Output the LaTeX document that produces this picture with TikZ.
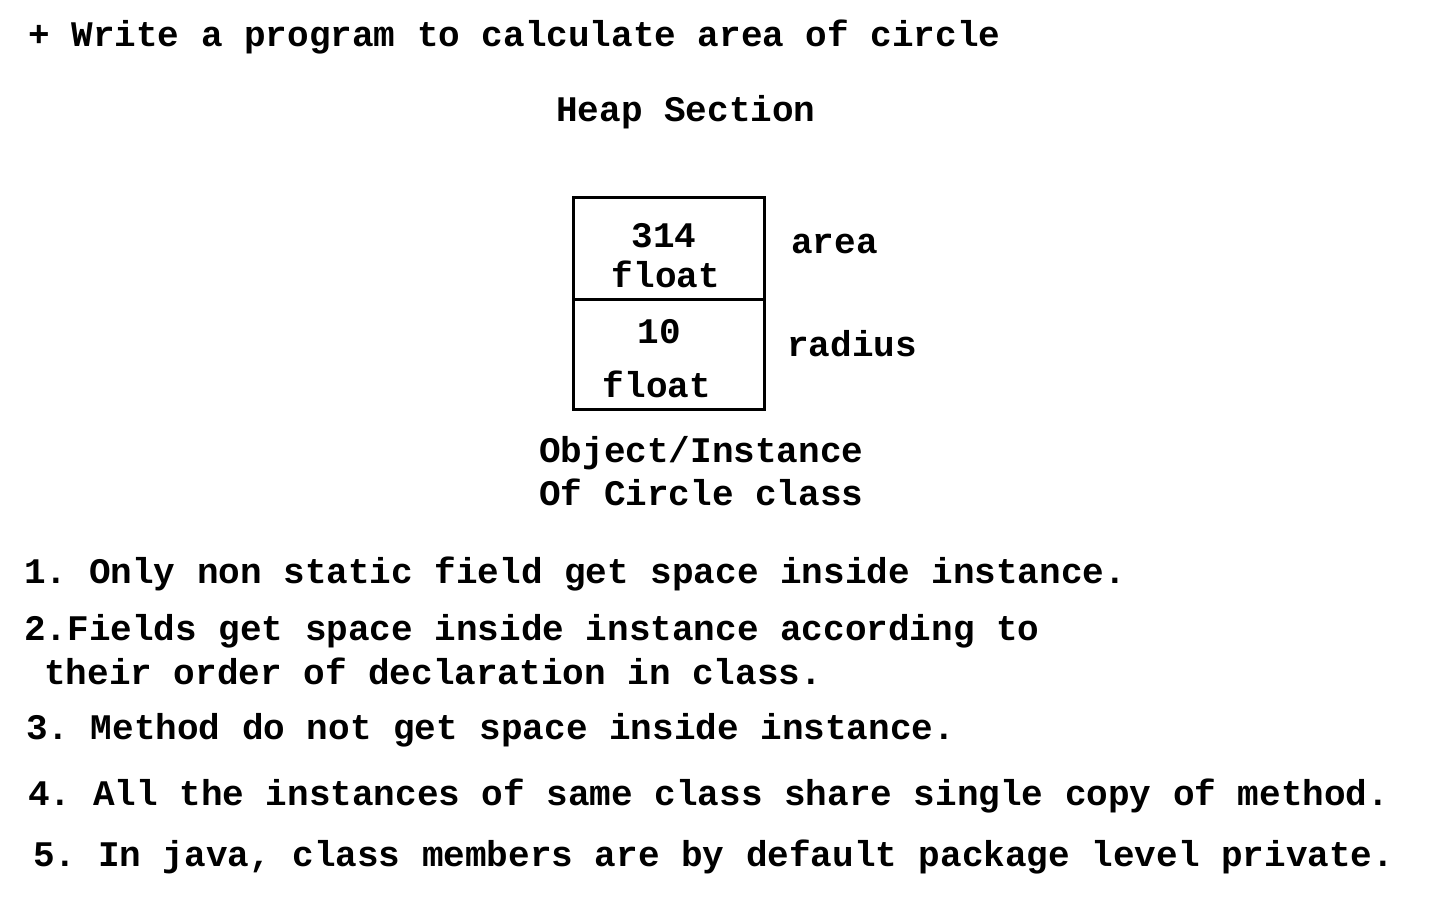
\documentclass[tikz,border=0pt]{standalone}
\usepackage{fontspec}
\setmainfont{Liberation Mono}
\begin{document}
\frenchspacing
\begin{tikzpicture}[x=1pt,y=-1pt,
  txt/.style={anchor=base west,inner sep=0pt,font=\fontsize{36}{40}\selectfont\bfseries},
  ctxt/.style={anchor=base,inner sep=0pt,font=\fontsize{36}{40}\selectfont\bfseries},
  cell/.style={draw,line width=3pt,minimum width=191pt,inner sep=0pt}]
\useasboundingbox (0,0) rectangle (1440,900);
\node[txt] (title) at (28,46) {+ Write a program to calculate area of circle};
\node[txt] (heap) at (556,121) {Heap Section};
\node[cell,minimum height=102pt] (c1) at (668.5,248) {};
\node[cell,minimum height=110pt] (c2) at (668.5,354) {};
\node[ctxt] (v1) at (664,247) {314};
\node[ctxt] (t1) at (666,287) {float};
\node[ctxt] (v2) at (659,343) {10};
\node[ctxt] (t2) at (657,397) {float};
\node[txt] (area) at (791,253) {area};
\node[txt] (rad) at (787,356) {radius};
\node[txt] (obj) at (539,462) {Object/Instance};
\node[txt] (of) at (539,505) {Of Circle class};
\node[txt] (p1) at (24,583) {1. Only non static field get space inside instance.};
\node[txt] (p2) at (24,640) {2.Fields get space inside instance according to};
\node[txt] (p2b) at (44,684) {their order of declaration in class.};
\node[txt] (p3) at (26,739) {3. Method do not get space inside instance.};
\node[txt] (p4) at (28,805) {4. All the instances of same class share single copy of method.};
\node[txt] (p5) at (33,866) {5. In java, class members are by default package level private.};
\end{tikzpicture}
\end{document}
